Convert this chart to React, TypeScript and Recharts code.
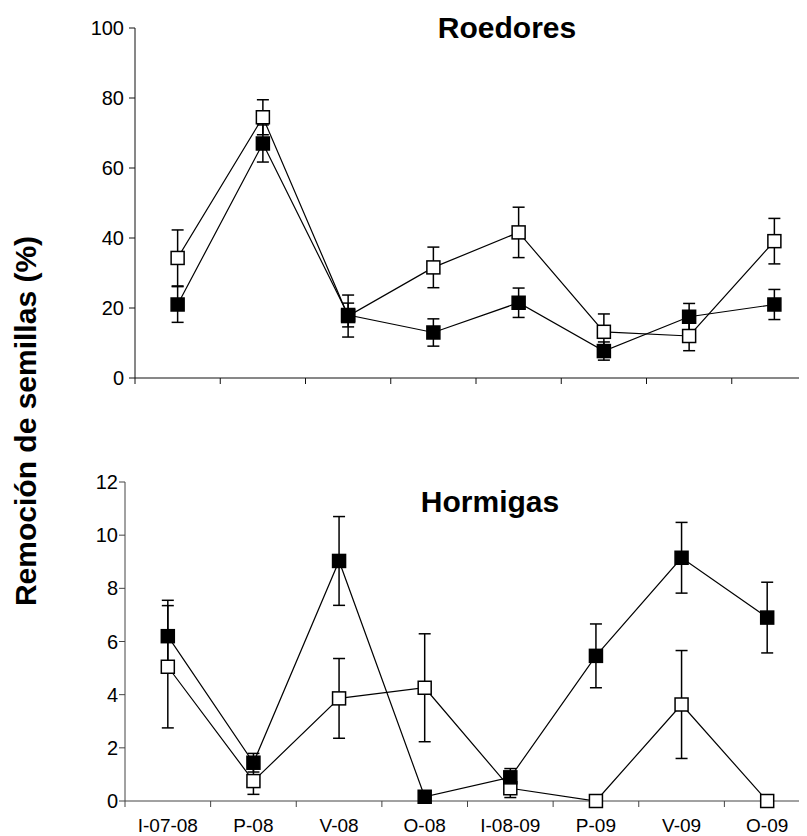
import { LineChart, Line, XAxis, YAxis, ErrorBar } from "recharts";

const categories = ["I-07-08", "P-08", "V-08", "O-08", "I-08-09", "P-09", "V-09", "O-09"];

// Roedores (% seed removal), open vs filled squares, with SE
const rodentOpen = [34.3, 74.5, 17.7, 31.6, 41.6, 13.2, 12.0, 39.1];
const rodentOpenErr = [8.0, 5.0, 6.0, 5.8, 7.2, 5.1, 4.2, 6.5];
const rodentFilled = [21.0, 67.0, 18.0, 13.0, 21.5, 7.7, 17.5, 21.0];
const rodentFilledErr = [5.1, 5.3, 3.4, 3.9, 4.2, 2.6, 3.8, 4.3];

// Hormigas
const antOpen = [5.05, 0.75, 3.86, 4.26, 0.48, 0, 3.63, 0];
const antOpenErr = [2.3, 0.5, 1.5, 2.03, 0.35, 0, 2.03, 0];
const antFilled = [6.2, 1.44, 9.03, 0.16, 0.89, 5.46, 9.15, 6.9];
const antFilledErr = [1.35, 0.35, 1.67, 0, 0.33, 1.2, 1.33, 1.33];

const rodentTicks = [0, 20, 40, 60, 80, 100];
const antTicks = [0, 2, 4, 6, 8, 10, 12];

const FONT = "'Liberation Sans', Arial, sans-serif";

const toRows = (open: number[], openErr: number[], filled: number[], filledErr: number[]) =>
  categories.map((c, i) => ({ x: c, open: open[i], openErr: openErr[i], filled: filled[i], filledErr: filledErr[i] }));

const rodentRows = toRows(rodentOpen, rodentOpenErr, rodentFilled, rodentFilledErr);
const antRows = toRows(antOpen, antOpenErr, antFilled, antFilledErr);

// square marker, white or black
const squareDot = (fill: string) => (p: any) => (
  <rect key={p.index} x={p.cx - 6.5} y={p.cy - 6.5} width={13} height={13} fill={fill} stroke="#000" strokeWidth={1.5} />
);

// tick marks sit on band boundaries, labels at band centres
const makeXTick = (bw: number, showLabel: boolean, stroke: string) => (props: any) => {
  const { x, y, payload } = props;
  const left = x - bw / 2;
  return (
    <g>
      <line x1={left} y1={y} x2={left} y2={y + 6} stroke={stroke} strokeWidth={1} />
      {showLabel ? (
        <text x={x} y={y + 31} textAnchor="middle" fontSize={19} fontFamily={FONT} fill="#000">
          {payload.value}
        </text>
      ) : null}
    </g>
  );
};

function Panel({ rows, width, height, margin, yWidth, xHeight, domain, ticks, showLabels, axisColor, tickMargin }: any) {
  const plotW = width - yWidth - margin.left - margin.right;
  const bw = plotW / categories.length;
  return (
    <LineChart width={width} height={height} data={rows} margin={margin}>
      <XAxis
        dataKey="x" height={xHeight} interval={0} tickSize={0} tickMargin={0}
        padding={{ left: bw / 2, right: bw / 2 }}
        axisLine={{ stroke: axisColor, strokeWidth: 1 }} tickLine={false}
        tick={makeXTick(bw, showLabels, axisColor)}
      />
      <YAxis
        type="number" domain={domain} ticks={ticks} width={yWidth} interval={0}
        tickSize={6} tickMargin={tickMargin}
        axisLine={{ stroke: axisColor, strokeWidth: 1 }} tickLine={{ stroke: axisColor }}
        tick={{ fontSize: 20, fill: "#000", fontFamily: FONT }}
      />
      <Line dataKey="open" stroke="#000" strokeWidth={1.2} dot={squareDot("#fff")} activeDot={false} isAnimationActive={false}>
        <ErrorBar dataKey="openErr" direction="y" width={6} stroke="#000" strokeWidth={1.5} />
      </Line>
      <Line dataKey="filled" stroke="#000" strokeWidth={1.2} dot={squareDot("#000")} activeDot={false} isAnimationActive={false}>
        <ErrorBar dataKey="filledErr" direction="y" width={6} stroke="#000" strokeWidth={1.5} />
      </Line>
    </LineChart>
  );
}

export default function App() {
  return (
    <div style={{ position: "relative", width: 799, height: 828, overflow: "hidden", background: "#fff" }}>
      <div style={{ position: "absolute", left: 0, top: 0 }}>
        <Panel
          rows={rodentRows} width={809} height={380}
          margin={{ top: 20, right: 0, bottom: 0, left: 0 }}
          yWidth={127} xHeight={10} domain={[0, 100]} ticks={rodentTicks}
          showLabels={false} axisColor="#111" tickMargin={5}
        />
      </div>
      <div style={{ position: "absolute", left: 0, top: 440 }}>
        <Panel
          rows={antRows} width={802} height={388}
          margin={{ top: 34, right: 0, bottom: 0, left: 0 }}
          yWidth={117} xHeight={35} domain={[0, 12]} ticks={antTicks}
          showLabels={true} axisColor="#444" tickMargin={1}
        />
      </div>
      <svg width={799} height={828} style={{ position: "absolute", left: 0, top: 0, pointerEvents: "none" }}>
        <text x={499} y={30} textAnchor="middle" fontSize={30} fontWeight="bold" fontFamily={FONT} fill="#000">Roedores</text>
        <text x={482} y={504} textAnchor="middle" fontSize={30} fontWeight="bold" fontFamily={FONT} fill="#000">Hormigas</text>
        <text
          x={28} y={413} textAnchor="middle" fontSize={30} fontWeight="bold" fontFamily={FONT} fill="#000"
          transform="rotate(-90, 28, 413)"
        >
          Remoción de semillas (%)
        </text>
      </svg>
    </div>
  );
}
